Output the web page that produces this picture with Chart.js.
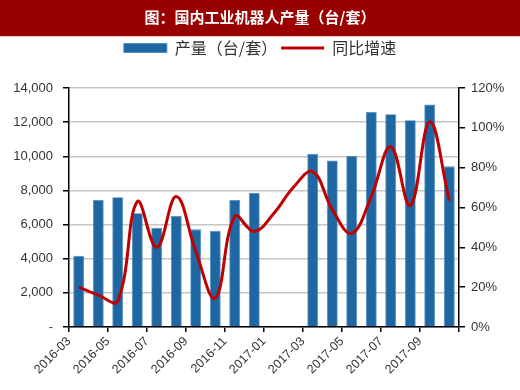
<!DOCTYPE html>
<html>
<head>
<meta charset="utf-8">
<script src="https://cdn.jsdelivr.net/npm/chart.js@4"></script>
<style>
  html, body { margin: 0; padding: 0; background: #fff; }
  #wrap { width: 520px; height: 390px; position: relative; }
</style>
</head>
<body>
<div id="wrap"><canvas id="robotChart"></canvas></div>
<script>
// 数据
const MONTHS = ['2016-03', '2016-04', '2016-05', '2016-06', '2016-07', '2016-08', '2016-09', '2016-10', '2016-11', '2016-12',
                '2017-01', '2017-02', '2017-03', '2017-04', '2017-05', '2017-06', '2017-07', '2017-08', '2017-09', '2017-10'];
const OUTPUT = [4180, 7440, 7600, 6660, 5820, 6500, 5720, 5640, 7440, 7870,
                null, null, 10150, 9760, 10030, 12590, 12460, 12110, 13040, 9410];
const GROWTH = [20, 16, 13, 63, 40, 65.5, 38, 14.5, 55.5, 48,
                57, 70, 78, 59, 47, 65.5, 90.5, 61, 103, 63.5];
const LEFT_TICKS = [0, 2000, 4000, 6000, 8000, 10000, 12000, 14000];
const RIGHT_TICKS = [0, 20, 40, 60, 80, 100, 120];

const BLUE = '#1F67A3';
const RED = '#C00000';
const FONT = '"Liberation Sans", Arial, sans-serif';
const CJK = '"Noto Sans CJK SC", sans-serif';

// 标题背景色块
const titleBar = {
    id: 'titleBar',
    beforeDraw(chart) {
        const c = chart.ctx;
        c.save();
        c.fillStyle = '#990000';
        c.fillRect(0, 0, chart.width, 36);
        c.fillStyle = '#f2c4c4';
        c.fillRect(0, 36, chart.width, 1);
        c.restore();
    }
};

// 图例下方留白，让绘图区从 y=88 开始
const legendSpace = {
    id: 'legendSpace',
    beforeLayout(chart) {
        const lg = chart.legend;
        if (!lg || lg._patched) return;
        const fit = lg.fit;
        lg.fit = function () {
            fit.call(this);
            this.height = 52;
        };
        lg._patched = true;
    }
};

new Chart(document.getElementById('robotChart'), {
    data: {
        labels: MONTHS,
        datasets: [{
            type: 'bar',
            label: '产量（台/套）',
            data: OUTPUT,
            backgroundColor: BLUE,
            borderColor: '#4d8cc4',
            borderWidth: 0.8,
            barPercentage: 0.56,
            categoryPercentage: 1,
            yAxisID: 'y',
            xAxisID: 'x',
            order: 1
        }, {
            type: 'line',
            label: '同比增速',
            data: GROWTH,
            borderColor: RED,
            backgroundColor: RED,
            borderWidth: 3,
            tension: 0.4,
            pointRadius: 0,
            pointStyle: 'line',
            yAxisID: 'y1',
            xAxisID: 'x',
            order: 0
        }]
    },
    options: {
        responsive: true,
        maintainAspectRatio: false,
        animation: false,
        layout: { padding: 0 },
        plugins: {
            title: {
                display: true,
                text: '图：国内工业机器人产量（台/套）',
                color: '#fff',
                font: { family: CJK, size: 15, weight: 'bold' },
                padding: { top: 8, bottom: 10 }
            },
            legend: {
                display: true,
                labels: {
                    usePointStyle: true,
                    pointStyleWidth: 43,
                    boxHeight: 9,
                    padding: 4,
                    color: '#333',
                    font: { family: CJK, size: 16 },
                    sort: (a, b) => a.datasetIndex - b.datasetIndex,
                    generateLabels(chart) {
                        const items = Chart.defaults.plugins.legend.labels.generateLabels(chart);
                        items.forEach(it => {
                            if (it.datasetIndex === 0) {
                                it.pointStyle = 'rect';
                                it.fillStyle = BLUE;
                                it.strokeStyle = '#4d8cc4';
                                it.lineWidth = 1;
                            } else {
                                it.pointStyle = 'line';
                                it.strokeStyle = RED;
                                it.lineWidth = 3;
                            }
                        });
                        return items;
                    }
                }
            },
            tooltip: { enabled: false }
        },
        scales: {
            x: {
                type: 'category',
                offset: true,
                display: false
            },
            xt: {
                type: 'linear',
                position: 'bottom',
                min: 0,
                max: MONTHS.length,
                afterBuildTicks: axis => {
                    axis.ticks = [];
                    for (let i = 0; i <= MONTHS.length; i += 2) axis.ticks.push({ value: i });
                },
                afterFit: axis => { axis.height = 63; },
                border: { display: true, color: '#000', width: 1.5 },
                grid: { drawOnChartArea: false, tickLength: 5, tickColor: '#000', lineWidth: 1.5 },
                ticks: {
                    minRotation: 45,
                    maxRotation: 45,
                    padding: 2,
                    color: '#333',
                    font: { family: FONT, size: 12.5 },
                    callback: v => MONTHS[v] || ''
                }
            },
            y: {
                position: 'left',
                min: 0,
                max: 14000,
                afterBuildTicks: axis => { axis.ticks = LEFT_TICKS.map(v => ({ value: v })); },
                afterFit: axis => { axis.width = 69; },
                border: { display: true, color: '#000', width: 1.5 },
                grid: { color: '#c6c6c6', lineWidth: 1.5, tickLength: 6, tickColor: '#000' },
                ticks: {
                    color: '#333',
                    padding: 10,
                    font: { family: FONT, size: 13 },
                    callback: v => v === 0 ? '-' : v.toLocaleString('en-US')
                }
            },
            y1: {
                position: 'right',
                min: 0,
                max: 120,
                afterBuildTicks: axis => { axis.ticks = RIGHT_TICKS.map(v => ({ value: v })); },
                afterFit: axis => { axis.width = 61; },
                border: { display: true, color: '#000', width: 1.5 },
                grid: { drawOnChartArea: false, tickLength: 6, tickColor: '#000', lineWidth: 1.5 },
                ticks: {
                    color: '#333',
                    padding: 6,
                    font: { family: FONT, size: 13 },
                    callback: v => v + '%'
                }
            }
        }
    },
    plugins: [titleBar, legendSpace]
});
</script>
</body>
</html>
